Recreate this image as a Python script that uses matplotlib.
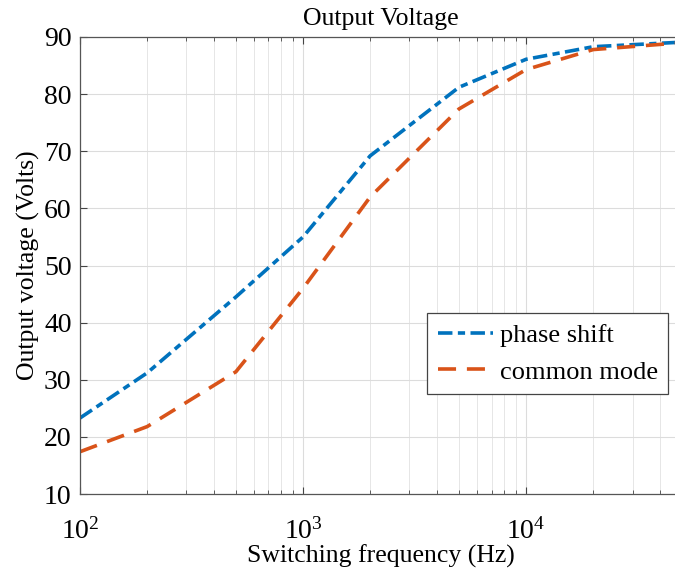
import numpy as np
import matplotlib.pyplot as plt

plt.rcParams['font.family'] = ['Liberation Serif', 'DejaVu Serif']
plt.rcParams['mathtext.fontset'] = 'custom'
plt.rcParams['mathtext.rm'] = 'Liberation Serif'
plt.rcParams['mathtext.it'] = 'Liberation Serif:italic'

freq = [100, 200, 500, 1000, 2000, 5000, 10000, 20000, 50000]
phase_shift = [23.3, 31.2, 44.5, 55.0, 69.2, 81.2, 86.1, 88.3, 89.1]
common_mode = [17.4, 21.8, 31.4, 46.0, 62.0, 77.4, 84.3, 87.8, 89.0]

fig = plt.figure(figsize=(6.75, 5.76), dpi=100)
ax = fig.add_axes([80 / 675, 1 - 494 / 576, 602 / 675, 457 / 576])

ax.plot(freq, phase_shift, color='#0072BD', ls='-.', lw=2.6, label='phase shift',
        dashes=(4, 1.5, 2, 1.5))
ax.plot(freq, common_mode, color='#D95319', ls='--', lw=2.6, label='common mode',
        dashes=(5, 3))

ax.set_xscale('log')
ax.set_xlim(100, 5e4)
ax.set_ylim(10, 90)
ax.set_yticks(np.arange(10, 91, 10))
ax.set_xticks([1e2, 1e3, 1e4])
ax.set_xticklabels([r'$\mathregular{10^2}$', r'$\mathregular{10^3}$', r'$\mathregular{10^4}$'])

ax.grid(True, which='major', color='#dcdcdc', lw=0.8)
ax.grid(True, which='minor', axis='x', color='#e6e6e6', lw=0.7)
ax.tick_params(which='both', direction='in', top=True, right=True, color='#444444')
ax.tick_params(axis='x', which='major', length=5, pad=17, labelsize=20)
ax.tick_params(axis='x', which='minor', length=3, labelbottom=False)
ax.tick_params(axis='y', length=5, pad=6, labelsize=20)
for s in ax.spines.values():
    s.set_color('#555555')
    s.set_linewidth(0.9)

ax.set_title('Output Voltage', fontsize=18.5, pad=9)
ax.set_xlabel('Switching frequency (Hz)', fontsize=18.5, labelpad=0)
ax.set_ylabel('Output voltage (Volts)', fontsize=18.5, labelpad=3)

leg = ax.legend(loc='upper left', bbox_to_anchor=(347 / 602, 181 / 457), fontsize=19,
                fancybox=False, edgecolor='#444444', framealpha=1,
                handlelength=2.1, handletextpad=0.25, borderpad=0.4,
                labelspacing=0.5, borderaxespad=0)
leg.get_frame().set_linewidth(0.9)

fig.savefig('out.png', dpi=100)
